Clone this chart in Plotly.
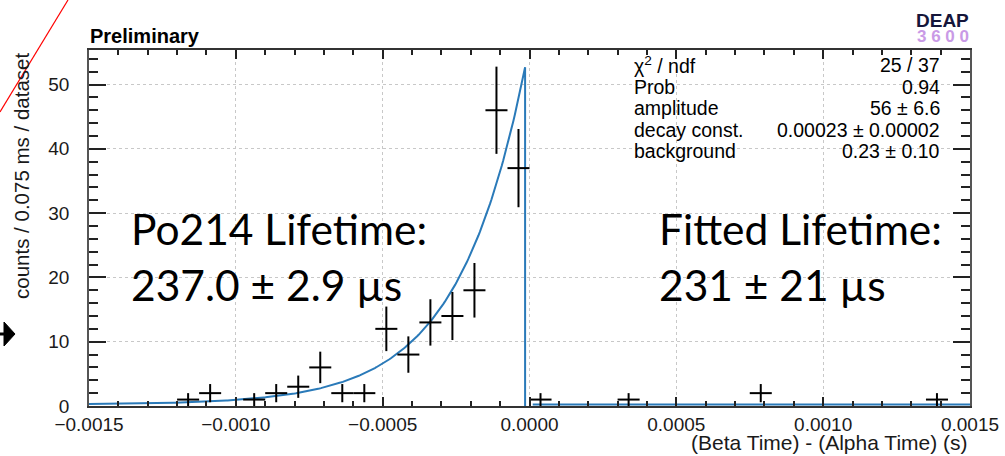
import numpy as np
import plotly.graph_objects as go

# Histogram of beta-alpha time differences (bin width 0.075 ms)
bin_centers = [-0.0011625, -0.0010875, -0.0009375, -0.0008625, -0.0007875,
               -0.0007125, -0.0006375, -0.0005625, -0.0004875, -0.0004125,
               -0.0003375, -0.0002625, -0.0001875, -0.0001125, -0.0000375,
               0.0000375, 0.0003375, 0.0007875, 0.0013875]
counts = [1, 2, 1, 2, 3, 6, 2, 2, 12, 8, 13, 14, 18, 46, 37, 1, 1, 2, 1]
bin_width = 0.000075

# Fit parameters
amplitude = 56.0
decay_const = 0.00023
background = 0.23

# Axis ticks
x_ticks = [-0.0015, -0.0010, -0.0005, 0.0, 0.0005, 0.0010, 0.0015]
x_tick_text = ["\u22120.0015", "\u22120.0010", "\u22120.0005", "0.0000", "0.0005", "0.0010", "0.0015"]
y_ticks = [0, 10, 20, 30, 40, 50]
y_tick_text = ["0", "10", "20", "30", "40", "50"]

# Fit summary box
stat_names = ["\u03c7<sup>2</sup> / ndf", "Prob", "amplitude", "decay const.", "background"]
stat_values = ["25 / 37", "0.94", "56 \u00b1 6.6", "0.00023 \u00b1 0.00002", "0.23 \u00b1 0.10"]

W, H = 1005, 456
L, R, T, B = 89, 970, 50, 406


def px(x):
    return (x - L) / (R - L)


def py(y):
    return (B - y) / (B - T)


fig = go.Figure()

# Fit function: exponential rise before the alpha, flat background after
t_neg = np.linspace(-0.0015, -0.000015, 300)
f_neg = amplitude * np.exp(t_neg / decay_const) + background
t_pos = np.array([0.000011, 0.0015])
f_pos = np.full_like(t_pos, background)
fit_x = list(t_neg) + [t_neg[-1], None] + list(t_pos)
fit_y = list(f_neg) + [0.0, None] + list(f_pos)
blue = "#2a7ab9"
fig.add_trace(go.Scatter(x=fit_x, y=fit_y, mode="lines",
                         line=dict(color=blue, width=2), hoverinfo="skip",
                         showlegend=False, connectgaps=False))

# Data points with sqrt(N) errors and bin-width horizontal bars
fig.add_trace(go.Scatter(
    x=bin_centers, y=counts, mode="markers",
    marker=dict(size=1, color="black"),
    error_x=dict(type="constant", value=bin_width / 2, thickness=2, width=0, color="black"),
    error_y=dict(type="data", array=list(np.sqrt(counts)), thickness=2, width=0, color="black"),
    showlegend=False))

FONT = "Liberation Sans, Arial, sans-serif"
axis_font = dict(family=FONT, size=19, color="#1a1a1a")
grid = dict(showgrid=True, gridcolor="#c8c8c8", griddash="dot", gridwidth=1)

fig.update_xaxes(range=[-0.0015, 0.0015], tickmode="array", tickvals=x_ticks,
                 ticktext=x_tick_text, ticks="inside", ticklen=9, tickwidth=1.5,
                 tickcolor="#222", showline=True, linecolor="#333", linewidth=1.5,
                 mirror="ticks", zeroline=False, tickfont=axis_font,
                 ticklabelstandoff=0, automargin=False,
                 minor=dict(ticks="inside", ticklen=5, tickmode="linear",
                            tick0=-0.0015, dtick=0.0001, tickcolor="#222",
                            tickwidth=1.5, showgrid=False),
                 **grid)
fig.update_yaxes(range=[0, 55.37], tickmode="array", tickvals=y_ticks,
                 ticktext=y_tick_text, ticks="inside", ticklen=17, tickwidth=1.5,
                 tickcolor="#222", showline=True, linecolor="#555", linewidth=1.5,
                 mirror="ticks", zeroline=False, tickfont=axis_font,
                 ticklabelstandoff=14, automargin=False,
                 minor=dict(ticks="inside", ticklen=9, tickmode="linear",
                            tick0=0, dtick=2, tickcolor="#222", tickwidth=1.5,
                            showgrid=False),
                 **grid)

annotations = []
# Axis titles
annotations.append(dict(text="counts / 0.075 ms / dataset", textangle=-90,
                        x=px(21), y=py(176), xanchor="center", yanchor="middle",
                        font=dict(family=FONT, size=20.5, color="#1a1a1a")))
annotations.append(dict(text="(Beta Time) - (Alpha Time) (s)",
                        x=px(970), y=py(442), xanchor="right", yanchor="middle",
                        font=dict(family=FONT, size=21, color="#1a1a1a")))
# Header
annotations.append(dict(text="<b>Preliminary</b>", x=px(88), y=py(36), xanchor="left",
                        yanchor="middle", font=dict(family=FONT, size=20, color="black")))
annotations.append(dict(text="<b>DEAP</b>", x=px(971), y=py(21), xanchor="right", yanchor="middle",
                        font=dict(family=FONT, size=19, color="#15163a")))
annotations.append(dict(text="<b>3 6 0 0</b>", x=px(971), y=py(36), xanchor="right", yanchor="middle",
                        font=dict(family=FONT, size=17, color="#c99ae6")))

# Fit summary
stat_font = dict(family=FONT, size=19.5, color="black")
for i, (name, val) in enumerate(zip(stat_names, stat_values)):
    yc = 65 + 21.6 * i
    annotations.append(dict(text=name, x=px(632), y=py(yc), xanchor="left", yanchor="middle",
                            font=stat_font))
    annotations.append(dict(text=val, x=px(942), y=py(yc), xanchor="right", yanchor="middle",
                            font=stat_font))

# Lifetime labels
big_font = dict(family="Lato, Noto Sans, sans-serif", size=42.5, color="black")
annotations.append(dict(text="Po214 Lifetime:", x=px(129), y=py(228), xanchor="left",
                        yanchor="middle", font=big_font))
annotations.append(dict(text="237.0 \u00b1 2.9 \u00b5s", x=px(129), y=py(284), xanchor="left",
                        yanchor="middle", font=big_font))
annotations.append(dict(text="Fitted Lifetime:", x=px(657), y=py(228), xanchor="left",
                        yanchor="middle", font=big_font))
annotations.append(dict(text="231 \u00b1 21 \u00b5s", x=px(657), y=py(284), xanchor="left",
                        yanchor="middle", font=big_font))

for a in annotations:
    a.update(xref="paper", yref="paper", showarrow=False)

shapes = [
    # white fit-summary pad
    dict(type="rect", xref="paper", yref="paper", x0=px(620), x1=px(950),
         y0=py(164), y1=py(52), fillcolor="white", line=dict(width=0), layer="between"),
    # red diagonal stroke in the corner
    dict(type="line", xref="paper", yref="paper", x0=px(0), y0=py(112), x1=px(68), y1=py(0),
         line=dict(color="red", width=1.2)),
    # small arrow marker at left edge
    dict(type="path", xref="paper", yref="paper",
         path=f"M {px(4)},{py(322)} L {px(15)},{py(334)} L {px(4)},{py(346)} Z",
         fillcolor="black", line=dict(color="black", width=1)),
    dict(type="line", xref="paper", yref="paper", x0=px(0), y0=py(334), x1=px(6), y1=py(334),
         line=dict(color="black", width=3)),
]

fig.update_layout(width=W, height=H, margin=dict(l=L, r=W - R, t=T, b=H - B),
                  plot_bgcolor="white", paper_bgcolor="white",
                  annotations=annotations, shapes=shapes, showlegend=False)

fig.write_html("out.html")
